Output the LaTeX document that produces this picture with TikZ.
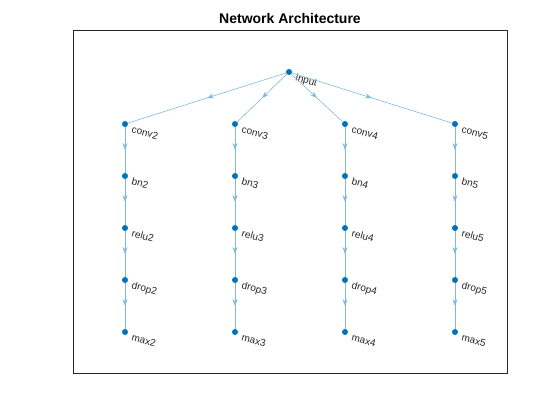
\documentclass[tikz,border=0pt]{standalone}
\usepackage{fontspec}
\setmainfont{Liberation Sans}
\usepackage{tikz}
\usetikzlibrary{arrows.meta,positioning,decorations.markings}
\definecolor{vtxblue}{HTML}{0072BD}
\definecolor{edgeblue}{HTML}{80B9DE}
\definecolor{frame}{HTML}{262626}

\begin{document}
\begin{tikzpicture}[
    x=1pt,y=-1pt,
    vtx/.style={circle,fill=vtxblue,inner sep=0pt,minimum size=6pt},
    lbl/.style={anchor=base west,rotate=-15,inner sep=0pt,font=\fontsize{10}{12}\selectfont,text=black!85},
    link/.style={draw=edgeblue,line width=0.6pt,postaction={decorate},
      decoration={markings,mark=at position 0.5 with {\arrow{Stealth[length=7pt,width=5pt,inset=2.5pt]}}}}
  ]
    \useasboundingbox (0,0) rectangle (560,420);
    \draw[frame,line width=0.5pt] (73,30) rectangle (507,373);
    \node[anchor=base,inner sep=0pt,font=\fontsize{14}{16}\selectfont\bfseries] (title) at (290,24) {Network Architecture};
    % root
    \node[vtx] (input) at (289,72) {};
    \node[lbl] at ([shift={(6,8.5)}]input) {input};
    % one column per branch
    \foreach \k/\x in {2/125,3/235,4/345,5/455}{
      \node[vtx] (conv\k) at (\x,124) {};
      \node[vtx] (bn\k) at (\x,176) {};
      \node[vtx] (relu\k) at (\x,228) {};
      \node[vtx] (drop\k) at (\x,280) {};
      \node[vtx] (max\k) at (\x,332) {};
      \foreach \n in {conv,bn,relu,drop,max}
        \node[lbl] at ([shift={(6,8.5)}]\n\k) {\n\k};
      \draw[link] (input) -- (conv\k);
      \draw[link] (conv\k) -- (bn\k);
      \draw[link] (bn\k) -- (relu\k);
      \draw[link] (relu\k) -- (drop\k);
      \draw[link] (drop\k) -- (max\k);
    }
  \end{tikzpicture}
\end{document}
